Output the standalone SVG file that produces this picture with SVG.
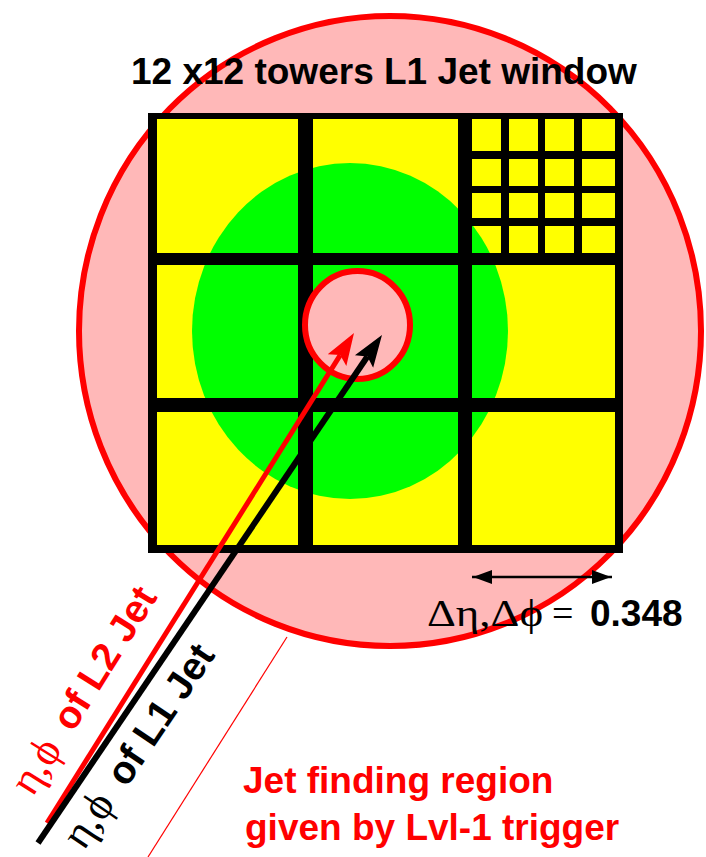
<svg xmlns="http://www.w3.org/2000/svg" width="706" height="857" viewBox="0 0 706 857">
<defs>
<style>
.sans{font-family:"Liberation Sans",Arial,sans-serif;font-weight:bold;font-size:37px}
.big{font-size:39px}
.serif{font-family:"Liberation Serif","Times New Roman",serif;font-weight:normal;font-size:38px}
.greek{font-size:44px}
.pink{fill:#ffb8b8;stroke:#ff0000;stroke-width:6}
.bar{fill:#000}
.redtxt{fill:#ff0000}
.blktxt{fill:#000}
</style>
<marker id="headRed" markerUnits="userSpaceOnUse" markerWidth="40" markerHeight="30" viewBox="0 -15 40 30" refX="6" refY="0" orient="auto">
<path d="M32,0 L0,-11 L6,0 L0,11 Z" fill="#ff0000"/>
</marker>
<marker id="headBlack" markerUnits="userSpaceOnUse" markerWidth="40" markerHeight="30" viewBox="0 -15 40 30" refX="6" refY="0" orient="auto">
<path d="M32,0 L0,-11 L6,0 L0,11 Z" fill="#000"/>
</marker>
</defs>
<rect x="0" y="0" width="706" height="857" fill="#ffffff"/>

<g id="jet-region">
<ellipse class="pink" cx="390" cy="331" rx="311" ry="315"/>
</g>

<g id="window-grid">
<rect x="148" y="113" width="475" height="440" fill="#000"/>
<rect x="157" y="119" width="458" height="426" fill="#ffff00"/>
<ellipse cx="350" cy="331" rx="158" ry="168" fill="#00ff00"/>
<rect class="bar" x="298" y="119" width="15" height="426"/>
<rect class="bar" x="458" y="119" width="14" height="426"/>
<rect class="bar" x="157" y="253" width="458" height="12"/>
<rect class="bar" x="157" y="398" width="458" height="14"/>
<rect class="bar" x="501" y="119" width="8" height="134"/>
<rect class="bar" x="538" y="119" width="7" height="134"/>
<rect class="bar" x="574" y="119" width="8" height="134"/>
<rect class="bar" x="472" y="151" width="143" height="8"/>
<rect class="bar" x="472" y="186" width="143" height="7"/>
<rect class="bar" x="472" y="218" width="143" height="8"/>
</g>

<g id="l2-cone">
<ellipse class="pink" cx="357.5" cy="325" rx="52.5" ry="54"/>
</g>

<g id="connectors">
<line x1="287" y1="637" x2="148" y2="857" stroke="#ff0000" stroke-width="1.2"/>
<line x1="47" y1="823" x2="340.2" y2="355.1" stroke="#ff0000" stroke-width="5" marker-end="url(#headRed)"/>
<line x1="38" y1="843" x2="367.4" y2="356.5" stroke="#000" stroke-width="6" marker-end="url(#headBlack)"/>
<line x1="472" y1="577" x2="612" y2="577" stroke="#000" stroke-width="2.5"/>
<path d="M473,577 L492,570 L492,584 Z" fill="#000"/>
<path d="M611,577 L592,570 L592,584 Z" fill="#000"/>
</g>

<g id="title">
<text class="sans blktxt" x="131" y="84">12 x12 towers L1 Jet window</text>
</g>

<g id="label-l2">
<text class="redtxt" transform="translate(32.8,797.5) rotate(-58)"><tspan class="serif greek">η,ϕ</tspan><tspan class="sans big" dx="8"> of L2 Jet</tspan></text>
</g>

<g id="label-l1">
<text class="blktxt" transform="translate(83.9,851.2) rotate(-56)"><tspan class="serif greek">η,ϕ</tspan><tspan class="sans big" dx="8"> of L1 Jet</tspan></text>
</g>

<g id="label-size">
<text class="serif blktxt" x="427" y="626" textLength="116" lengthAdjust="spacingAndGlyphs">Δη,Δϕ</text>
<text class="serif blktxt" x="552" y="626">=</text>
<text class="sans blktxt" x="590" y="626">0.348</text>
</g>

<g id="label-region">
<text class="sans redtxt" x="243" y="793">Jet finding region</text>
<text class="sans redtxt" x="245" y="840">given by Lvl-1 trigger</text>
</g>
</svg>
